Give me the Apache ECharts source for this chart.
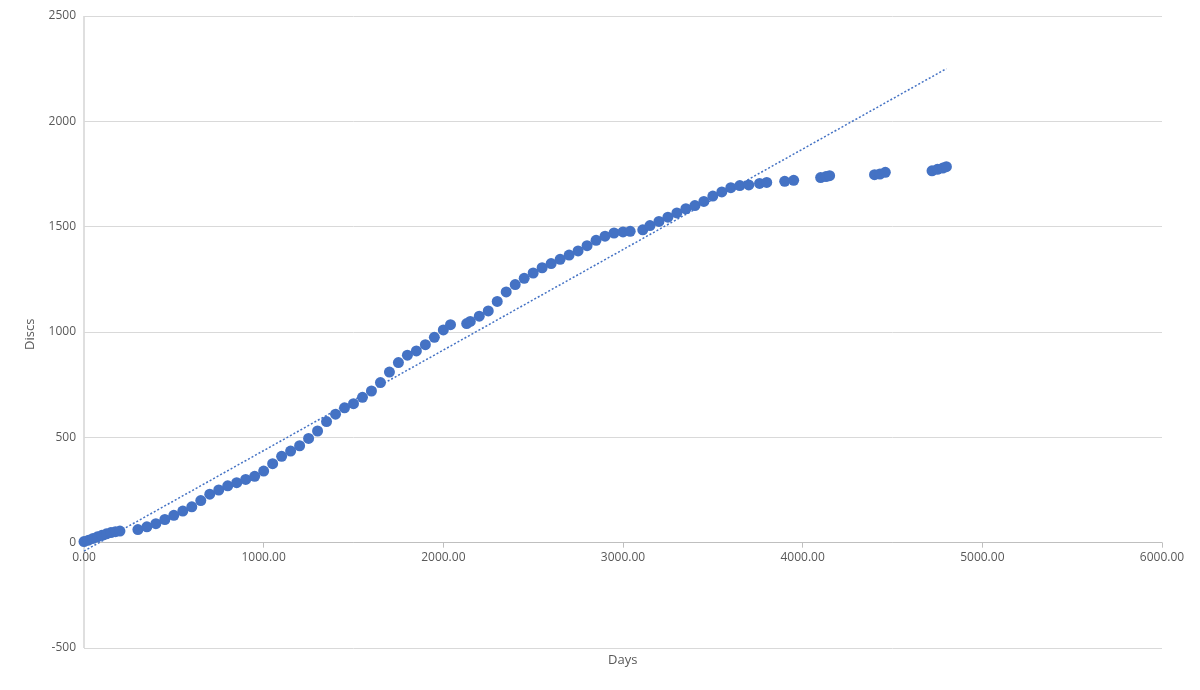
<!DOCTYPE html>
<html>
<head>
<meta charset="utf-8">
<script src="https://cdn.jsdelivr.net/npm/echarts@6/dist/echarts.min.js"></script>
<style>html,body{margin:0;padding:0;background:#fff}#main{width:1200px;height:690px}</style>
</head>
<body>
<div id="main"></div>
<script>
// days and disc counts
var days = [0,25,50,75,100,125,150,175,200,
  300,350,400,450,500,550,600,650,700,750,800,850,900,950,1000,1050,1100,1150,1200,1250,1300,1350,1400,1450,1500,1550,1600,1650,1700,1750,1800,1850,1900,1950,2000,2040,
  2130,2150,2200,2250,2300,2350,2400,2450,2500,2550,2600,2650,2700,2750,2800,2850,2900,2950,3000,3040,
  3110,3150,3200,3250,3300,3350,3400,3450,3500,3550,3600,3650,3700,
  3760,3800,3900,3950,4100,4130,4150,4400,4430,4460,4720,4750,4780,4800]
var discs = [5,12,20,28,35,42,48,52,55,
  62,75,90,110,130,150,170,200,230,250,270,285,300,315,340,375,410,435,460,495,530,575,610,640,660,690,720,760,810,855,890,910,940,975,1010,1035,
  1040,1050,1075,1100,1145,1190,1225,1255,1280,1305,1325,1345,1365,1385,1410,1435,1455,1470,1475,1478,
  1485,1505,1525,1545,1565,1585,1600,1620,1645,1665,1685,1695,1698,
  1705,1710,1715,1720,1733,1738,1742,1747,1750,1758,1765,1772,1778,1785]
var trendX = [0, 4800]
var trendY = [-40, 2250]

var pts = days.map(function (d, i) { return [d, discs[i]] })
var trend = trendX.map(function (d, i) { return [d, trendY[i]] })

var chart = echarts.init(document.getElementById('main'))
chart.setOption({
  animation: false,
  grid: { left: 84, right: 38, top: 16, bottom: 42 },
  xAxis: {
    type: 'value', min: 0, max: 6000, interval: 1000,
    axisLine: { onZero: true, lineStyle: { color: '#bfbfbf' } },
    axisTick: { show: true, lineStyle: { color: '#bfbfbf' } },
    splitLine: { show: false },
    axisLabel: { color: '#595959', fontSize: 12, fontFamily: 'Open Sans', margin: -96,
      formatter: function (v) { return v.toFixed(2) } }
  },
  yAxis: {
    type: 'value', min: -500, max: 2500, interval: 500,
    axisLine: { show: false },
    axisTick: { show: false },
    splitLine: { lineStyle: { color: '#d9d9d9' } },
    axisLabel: { color: '#595959', fontSize: 12, fontFamily: 'Open Sans', formatter: function (v) { return String(v) } }
  },
  graphic: [
    { type: 'line', shape: { x1: 84, y1: 16, x2: 84, y2: 648 }, style: { stroke: '#bfbfbf', lineWidth: 1 } },
    { type: 'text', left: 608, top: 654, style: { text: 'Days', fill: '#595959', font: '13px "Open Sans"' } },
    { type: 'text', x: 24, y: 350, rotation: Math.PI / 2, style: { text: 'Discs', fill: '#595959', font: '13px "Open Sans"' } }
  ],
  series: [
    { type: 'scatter', data: pts, symbolSize: 11, itemStyle: { color: '#4472c4', opacity: 1 } },
    { type: 'line', data: trend, symbol: 'none', lineStyle: { color: '#4472c4', width: 1.5, type: [2, 2] } }
  ]
})
</script>
</body>
</html>
